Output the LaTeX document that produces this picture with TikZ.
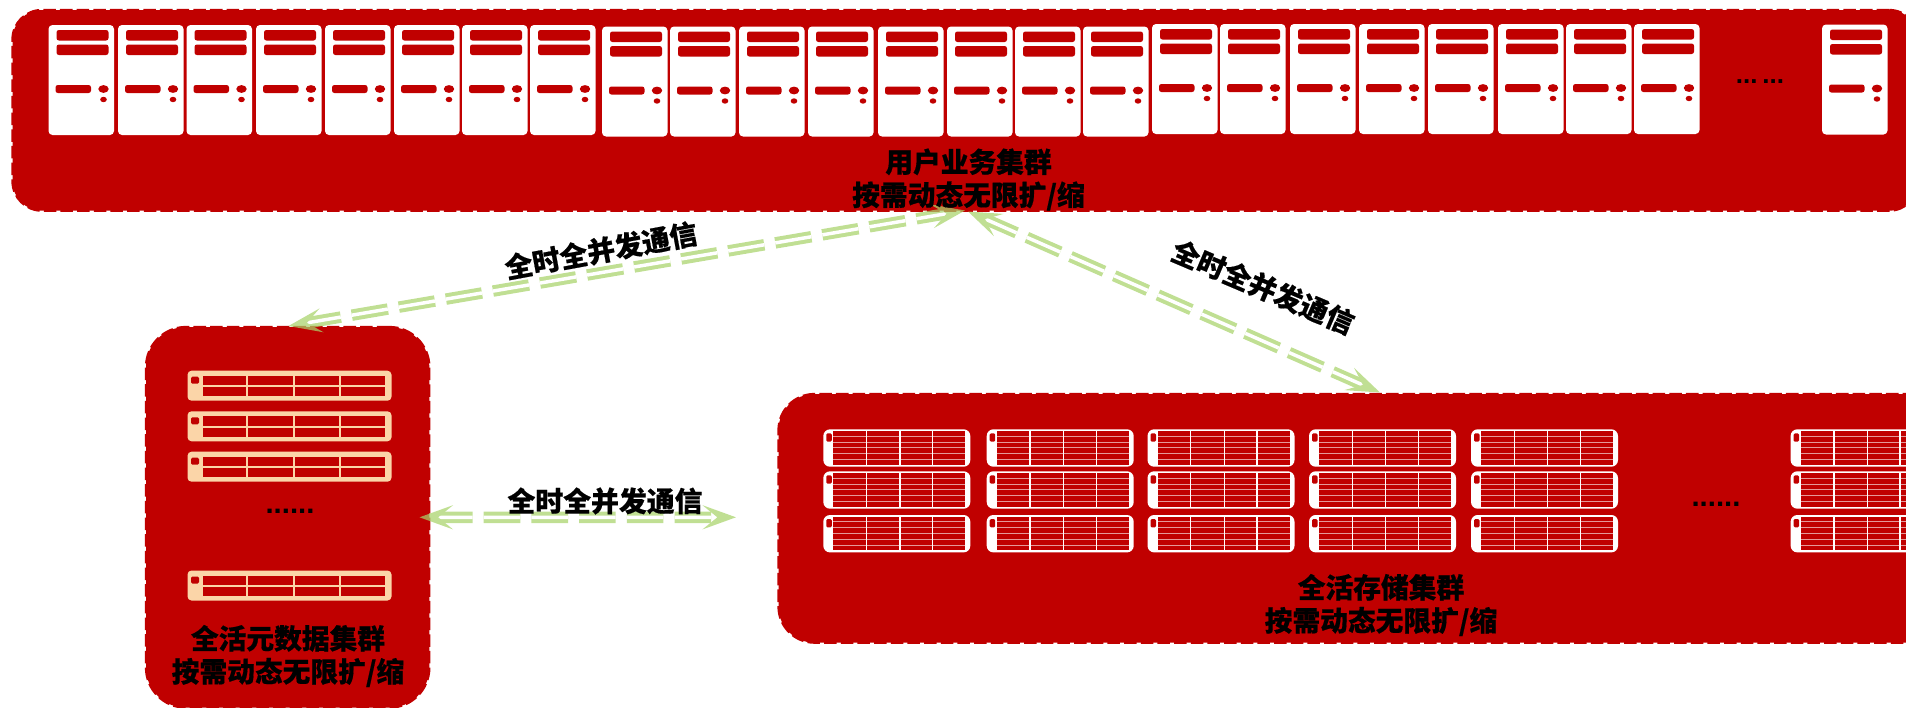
\documentclass[tikz,border=0pt]{standalone}
\usepackage{fontspec}
\setmainfont{Noto Sans CJK SC}[BoldFeatures={FakeBold=0.5}]
\newfontfamily\dotfont{Liberation Sans}
\usetikzlibrary{arrows.meta}
\definecolor{clusterred}{HTML}{C00000}
\definecolor{peach}{HTML}{FBD5A8}
\definecolor{linkgreen}{HTML}{A8D36A}
\tikzset{
  x=0.75pt,y=-0.75pt,
  cluster/.style={draw=clusterred,fill=clusterred,line width=1.7pt,dash pattern=on 9.4pt off 3.1pt,inner sep=0pt,outer sep=0pt},
  caption/.style={font=\fontsize{20.8pt}{24.8pt}\selectfont\bfseries,text=black,align=center,inner sep=0pt},
  linklabel/.style={font=\fontsize{20.9pt}{25pt}\selectfont\bfseries,text=black,inner sep=0pt},
  dots/.style={font=\dotfont\bfseries\fontsize{19.5pt}{20pt}\selectfont,text=black,inner sep=0pt,anchor=base},
  widedots/.style={dots,font=\dotfont\bfseries\fontsize{22pt}{23pt}\selectfont},
  link/.style={draw=linkgreen,line width=3pt,double=white,double distance=2.6pt,dash pattern=on 27.4pt off 8.4pt,
    {Stealth[length=25pt,width=18pt,inset=11pt]}-{Stealth[length=25pt,width=18pt,inset=11pt]}},
  serverpic/.pic={
    \fill[white,rounded corners=3pt] (0,0) rectangle (65.5,110);
    \begin{scope}[clusterred]
    \fill[rounded corners=1.8pt] (8,5) rectangle (60,15.5);
    \fill[rounded corners=1.8pt] (8,19.5) rectangle (60,30);
    \fill[rounded corners=1.8pt] (7,60) rectangle (42.5,68);
    \fill (55,64) ellipse [x radius=5.2,y radius=3.9];
    \fill (55,74.5) ellipse [x radius=3.3,y radius=2.7];
    \end{scope}
  },
  rackpic/.pic={
    \fill[peach,rounded corners=3pt] (0,0) rectangle (204,30);
    \fill[clusterred,rounded corners=1pt] (3.5,6) rectangle (11.5,13);
    \foreach \cx/\cw in {15/43.5,60.5/44.5,107/44.5,153.5/43.5}{
      \fill[clusterred] (\cx,5) rectangle (\cx+\cw,14.3);
      \fill[clusterred] (\cx,16.3) rectangle (\cx+\cw,25.3);
    }
  },
  storagepic/.pic={
    \fill[white,rounded corners=5pt] (0,0) rectangle (147,37.4);
    \fill[clusterred] (10,2) rectangle (142,35.4);
    \fill[clusterred,rounded corners=1pt] (3,4) rectangle (8.5,12.4);
    \foreach \hy in {6.7,12.7,18.4,24,30}{
      \draw[white,opacity=.6,line width=.6pt] (10,\hy) -- (142,\hy);
    }
    \foreach \vx in {43.3,76.7,109.4}{
      \draw[white,line width=.9pt] (\vx,2) -- (\vx,35.4);
    }
  }
}
\begin{document}
\begin{tikzpicture}
\useasboundingbox (0,0) rectangle (1906,707);
\clip (0,0) rectangle (1906,707);
% cluster panels
\node[cluster,rounded corners=22pt,minimum width=1429.5pt,minimum height=150.5pt,anchor=north west] (users) at (12.5,10) {};
\node[cluster,rounded corners=30pt,minimum width=212.5pt,minimum height=285.5pt,anchor=north west] (meta) at (146,327) {};
\node[cluster,rounded corners=27pt,minimum width=904.5pt,minimum height=186.5pt,anchor=north west] (store) at (778.5,394) {};
% user servers
\foreach \sx in {48.5,118,186.5,256,325,394,462,530}{\pic at (\sx,25) {serverpic};}
\foreach \sx in {602,670,739,808,878,947,1015,1083}{\pic at (\sx,26.5) {serverpic};}
\foreach \sx in {1152,1220,1290,1359,1428,1498,1566,1634}{\pic at (\sx,24) {serverpic};}
\pic at (1822,24.5) {serverpic};
% metadata racks
\foreach \ry in {370.7,411.3,451.7,570.5}{\pic at (187.5,\ry) {rackpic};}
% storage units
\foreach \ux in {823.3,986.7,1147.5,1309,1471,1790.6}{
  \foreach \uy in {429.3,471.3,515}{\pic at (\ux,\uy) {storagepic};}
}
% ellipses
\node[dots] (dotsu) at (1760,83.5) {...\hspace{3.6pt}...};
\node[widedots] (dotsm) at (290,513.5) {......};
\node[widedots] (dotss) at (1716,506) {......};
% connectors
\coordinate (userleft) at (965,210.5);
\coordinate (userright) at (968,211.5);
\coordinate (metatop) at (288.5,326);
\coordinate (storetop) at (1380,392.5);
\coordinate (metaright) at (419.5,517.3);
\coordinate (storeleft) at (736,517.3);
\begin{scope}[transparency group,opacity=.72]
\draw[link] (metatop) -- (userleft);
\draw[link] (userright) -- (storetop);
\draw[link] (metaright) -- (storeleft);
\end{scope}
% captions
\node[caption] (usercap) at (968.5,179.5) {用户业务集群\\按需动态无限扩/缩};
\node[caption] (metacap) at (288,656) {全活元数据集群\\按需动态无限扩/缩};
\node[caption] (storecap) at (1381,605) {全活存储集群\\按需动态无限扩/缩};
\node[linklabel,rotate=10.5] (lab1) at (601,250.5) {全时全并发通信};
\node[linklabel,rotate=-23] (lab2) at (1263,287) {全时全并发通信};
\node[linklabel] (lab3) at (605,501) {全时全并发通信};
\end{tikzpicture}
\end{document}
